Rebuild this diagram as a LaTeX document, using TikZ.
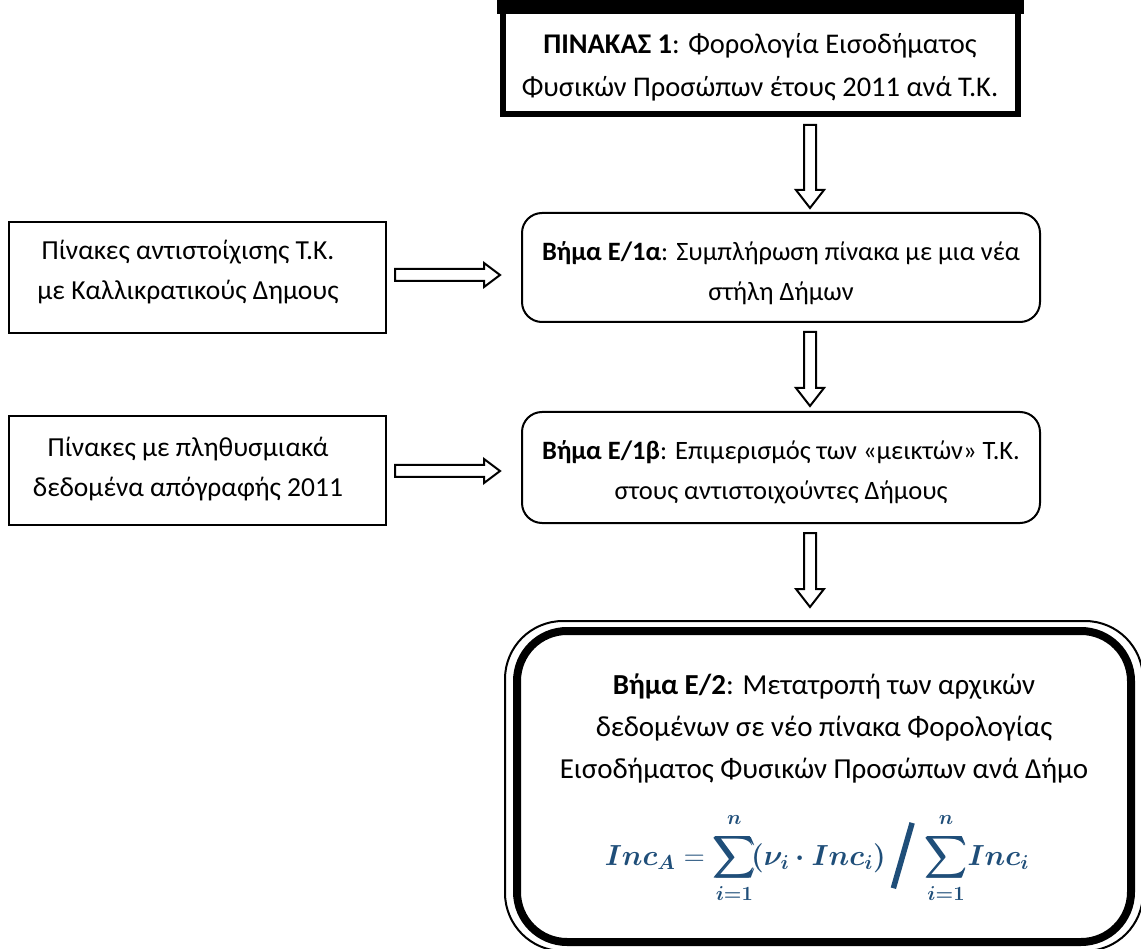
\documentclass[tikz,border=0pt]{standalone}
\usepackage{amsmath,bm}
\usepackage{graphicx}
\usepackage{fontspec}
\setmainfont{Carlito}
\usetikzlibrary{calc}
\definecolor{formulablue}{RGB}{31,78,121}

% hollow block arrows between two named points
\newcommand\hollowdown[2]{\draw[hollow] let \p1=(#1), \p2=(#2) in
  (\x1-6pt,\y1) -- (\x1+6pt,\y1) -- (\x1+6pt,\y2+18pt) -- (\x1+14pt,\y2+18pt)
  -- (\x1,\y2) -- (\x1-14pt,\y2+18pt) -- (\x1-6pt,\y2+18pt) -- cycle;}
\newcommand\hollowright[2]{\draw[hollow] let \p1=(#1), \p2=(#2) in
  (\x1,\y1+6pt) -- (\x2-16pt,\y1+6pt) -- (\x2-16pt,\y1+12pt) -- (\x2,\y1)
  -- (\x2-16pt,\y1-12pt) -- (\x2-16pt,\y1-6pt) -- (\x1,\y1-6pt) -- cycle;}
% heavy slanted division bar
\newcommand\bigslash{\raisebox{-22pt}{\rotatebox{-16}{\rule{5.5pt}{68pt}}}}
% upper summation limit, lifted a little off the sign
\newcommand\uplim{\raisebox{2.5pt}{$\scriptstyle\bm{n}$}}

\begin{document}
\begin{tikzpicture}[x=1pt,y=-1pt,
  txt/.style={font=\fontsize{28}{41}\selectfont, align=center, inner sep=0pt},
  toptxt/.style={txt, font=\fontsize{28.5}{43}\selectfont},
  steptxt/.style={txt, font=\fontsize{26.5}{40}\selectfont},
  sidetxt/.style={txt, font=\fontsize{27.5}{40}\selectfont},
  fintxt/.style={txt, font=\fontsize{29}{42}\selectfont},
  plainbox/.style={draw, line width=2pt, inner sep=0pt},
  stepbox/.style={draw, line width=2pt, rounded corners=20pt, inner sep=0pt},
  hollow/.style={draw, line width=2pt, fill=white, line join=miter}
]
\useasboundingbox (0,0) rectangle (1141,949);

% title box with heavy frame
\node[draw, line width=6pt, minimum width=515pt, minimum height=111pt, inner sep=0pt]
  (top) at (760.5,58.5) {};
\fill ([xshift=-3pt,yshift=3pt]top.north west) rectangle ([xshift=3pt,yshift=-14pt]top.north east);
\node[toptxt] (toptext) at (760,67)
  {\textbf{ΠΙΝΑΚΑΣ 1}: Φορολογία Εισοδήματος\\Φυσικών Προσώπων έτους 2011 ανά Τ.Κ.};

% processing steps
\node[stepbox, minimum width=518pt, minimum height=109pt] (e1a) at (781,267.5) {};
\node[steptxt] (e1atext) at (781,273)
  {\textbf{Βήμα Ε/1α}: Συμπλήρωση πίνακα με μια νέα\\στήλη Δήμων};
\node[stepbox, minimum width=518pt, minimum height=111pt] (e1b) at (781,467.5) {};
\node[steptxt] (e1btext) at (781,472)
  {\textbf{Βήμα Ε/1β}: Επιμερισμός των «μεικτών» Τ.Κ.\\στους αντιστοιχούντες Δήμους};

% input tables
\node[plainbox, minimum width=377pt, minimum height=111pt] (l1) at (197.5,278) {};
\node[sidetxt] (l1text) at (188,272)
  {Πίνακες αντιστοίχισης Τ.Κ.\\με Καλλικρατικούς Δημους};
\node[plainbox, minimum width=377pt, minimum height=109pt] (l2) at (197.5,470.5) {};
\node[sidetxt] (l2text) at (188,469)
  {Πίνακες με πληθυσμιακά\\δεδομένα απόγραφής 2011};

% final step with double frame
\node[draw, line width=8pt, rounded corners=50pt, minimum width=614pt, minimum height=311pt,
  inner sep=0pt] (fin) at (824,786.5) {};
\draw[line width=2pt, rounded corners=58pt]
  ([xshift=-8pt,yshift=6pt]fin.north west) rectangle ([xshift=8pt,yshift=-5pt]fin.south east);
\node[fintxt] (fintext) at (824,728)
  {\textbf{Βήμα Ε/2}: Μετατροπή των αρχικών\\δεδομένων σε νέο πίνακα Φορολογίας\\Εισοδήματος Φυσικών Προσώπων ανά Δήμο};
\node[inner sep=0pt, text=formulablue] (formula) at (817,858)
  {\scalebox{1.4}{\fontsize{20}{24}\selectfont$\displaystyle
   \bm{Inc_A} = \bm{\sum_{i=1}^{\uplim}}\! \bm{(\nu_i\cdot Inc_i)}\,
   \scalebox{0.714}{\bigslash}\,
   \bm{\sum_{i=1}^{\uplim}}\! \bm{Inc_i}$}};

% connectors
\coordinate (v1s) at (810,125);  \coordinate (v1e) at (810,208);
\coordinate (v2s) at (810,332);  \coordinate (v2e) at (810,406);
\coordinate (v3s) at (810,533);  \coordinate (v3e) at (810,607);
\coordinate (h1s) at (395,275);  \coordinate (h1e) at (500,275);
\coordinate (h2s) at (395,471);  \coordinate (h2e) at (500,471);
\hollowdown{v1s}{v1e}
\hollowdown{v2s}{v2e}
\hollowdown{v3s}{v3e}
\hollowright{h1s}{h1e}
\hollowright{h2s}{h2e}
\end{tikzpicture}
\end{document}
